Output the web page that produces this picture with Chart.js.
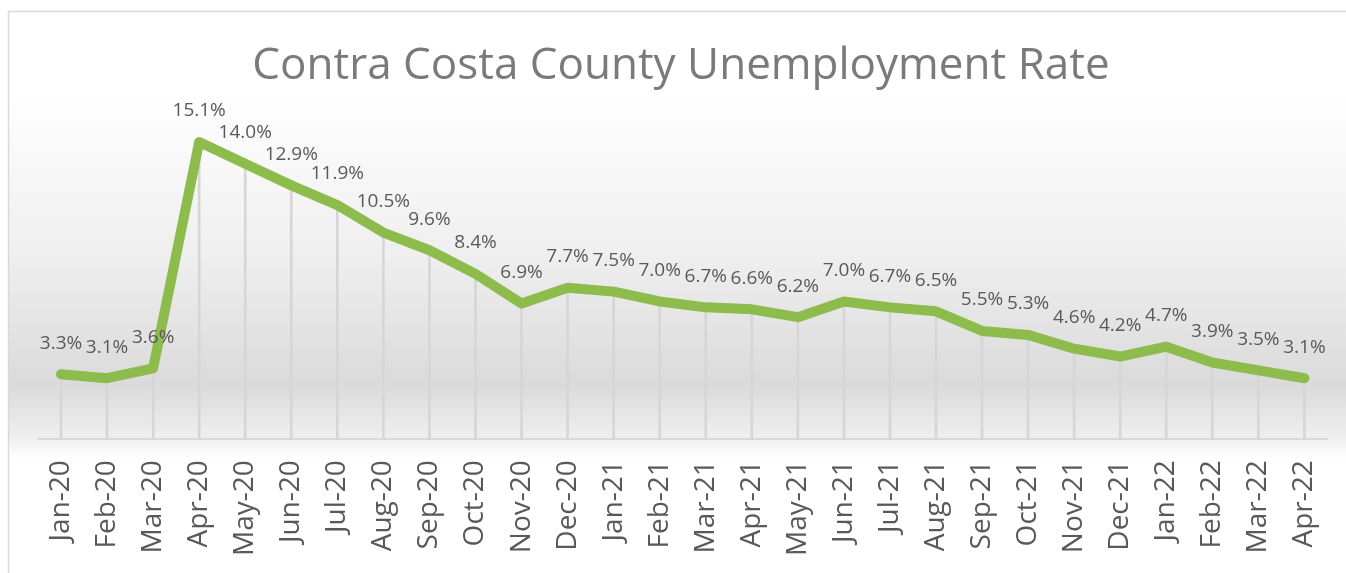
<!DOCTYPE html>
<html>
<head>
<meta charset="utf-8">
<script src="https://cdn.jsdelivr.net/npm/chart.js@4/dist/chart.umd.min.js"></script>
<style>
  html, body { margin: 0; padding: 0; background: #fff; overflow: hidden; }
  canvas { display: block; }
</style>
</head>
<body>
<canvas id="rateChart" width="1351" height="573"></canvas>
<script>
// Chart data
const chartTitle = "Contra Costa County Unemployment Rate";
const months = ["Jan-20", "Feb-20", "Mar-20", "Apr-20", "May-20", "Jun-20", "Jul-20", "Aug-20", "Sep-20", "Oct-20",
    "Nov-20", "Dec-20", "Jan-21", "Feb-21", "Mar-21", "Apr-21", "May-21", "Jun-21", "Jul-21", "Aug-21",
    "Sep-21", "Oct-21", "Nov-21", "Dec-21", "Jan-22", "Feb-22", "Mar-22", "Apr-22"];
const rates = [3.3, 3.1, 3.6, 15.1, 14.0, 12.9, 11.9, 10.5, 9.6, 8.4,
    6.9, 7.7, 7.5, 7.0, 6.7, 6.6, 6.2, 7.0, 6.7, 6.5,
    5.5, 5.3, 4.6, 4.2, 4.7, 3.9, 3.5, 3.1];

const FONT = "'Open Sans', 'Noto Sans', sans-serif";

// background, border and plot gradient
const backdropPlugin = {
    id: "backdrop",
    beforeDraw(chart) {
        const ctx = chart.ctx;
        const area = chart.chartArea;
        ctx.save();
        ctx.fillStyle = "#ffffff";
        ctx.fillRect(0, 0, chart.width, chart.height);

        const grad = ctx.createLinearGradient(0, area.top - 10, 0, area.bottom + 20);
        grad.addColorStop(0, "#ffffff");
        grad.addColorStop(0.45, "#efefef");
        grad.addColorStop(0.8, "#dadada");
        grad.addColorStop(0.95, "#f0f0f0");
        grad.addColorStop(1, "#ffffff");
        ctx.fillStyle = grad;
        ctx.fillRect(9, area.top - 10, chart.width - 9, area.bottom + 30 - area.top);

        ctx.strokeStyle = "#d9d9d9";
        ctx.lineWidth = 1.5;
        ctx.strokeRect(8.5, 11.5, chart.width + 20, chart.height + 20);
        ctx.restore();
    }
};

// percent labels above each point
const valueLabelPlugin = {
    id: "valueLabels",
    afterDatasetsDraw(chart) {
        const ctx = chart.ctx;
        const meta = chart.getDatasetMeta(1);
        ctx.save();
        ctx.font = "19px " + FONT;
        ctx.fillStyle = "#595959";
        ctx.textAlign = "center";
        ctx.textBaseline = "middle";
        meta.data.forEach((pt, i) => {
            ctx.fillText(rates[i].toFixed(1) + "%", pt.x, pt.y - 31);
        });
        ctx.restore();
    }
};

const ctx = document.getElementById("rateChart").getContext("2d");

new Chart(ctx, {
    data: {
        labels: months,
        datasets: [
            {
                // thin drop lines from the axis to each point
                type: "bar",
                data: rates,
                backgroundColor: "#d6d6d6",
                barThickness: 2,
                order: 2
            },
            {
                type: "line",
                data: rates,
                borderColor: "#8dbb4c",
                borderWidth: 10,
                borderCapStyle: "round",
                borderJoinStyle: "round",
                pointRadius: 0,
                tension: 0,
                fill: false,
                order: 1
            }
        ]
    },
    options: {
        responsive: false,
        devicePixelRatio: 1,
        animation: false,
        layout: {
            padding: { left: 11, right: 0, top: 40, bottom: 4 }
        },
        plugins: {
            legend: { display: false },
            tooltip: { enabled: false },
            title: {
                display: true,
                text: chartTitle,
                color: "#7a7a7a",
                font: { family: FONT, size: 44, weight: "normal" },
                padding: { top: 0, bottom: 4 }
            }
        },
        scales: {
            x: {
                type: "category",
                offset: true,
                grid: { display: false },
                border: { display: true, color: "#d9d9d9", width: 2 },
                ticks: {
                    color: "#595959",
                    font: { family: FONT, size: 28 },
                    minRotation: 90,
                    maxRotation: 90,
                    autoSkip: false,
                    padding: 13
                }
            },
            y: {
                // hidden value axis, kept only as left spacing
                min: 0,
                max: 17.4,
                grid: { display: false },
                border: { display: false },
                ticks: { display: false },
                afterFit(scale) {
                    scale.width = 27;
                }
            }
        }
    },
    plugins: [backdropPlugin, valueLabelPlugin]
});
</script>
</body>
</html>
